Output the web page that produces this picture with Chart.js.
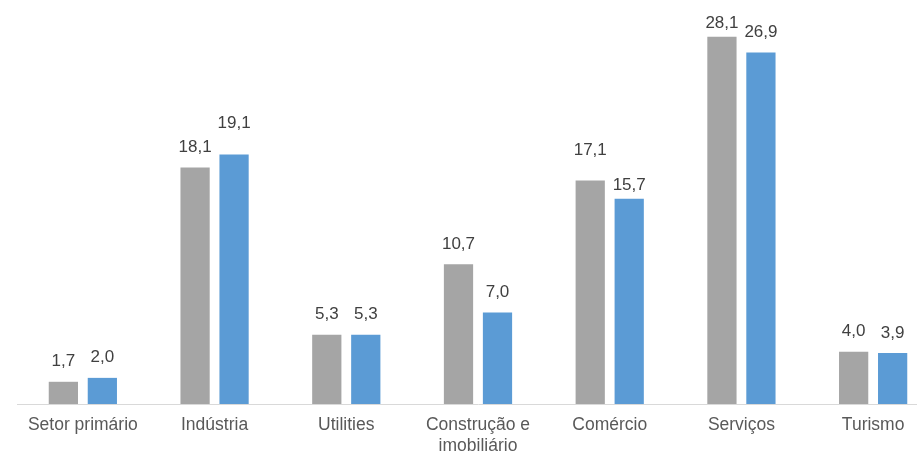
<!DOCTYPE html>
<html>
<head>
<meta charset="utf-8">
<script src="https://cdn.jsdelivr.net/npm/chart.js@4"></script>
<style>
  html, body { margin: 0; padding: 0; background: #fff; overflow: hidden; }
  #wrap { width: 917px; height: 455px; overflow: hidden; }
</style>
</head>
<body>
<div id="wrap"><canvas id="myChart" width="939" height="455"></canvas></div>
<script>
const categories = ["Setor primário", "Indústria", "Utilities", ["Construção e", "imobiliário"], "Comércio", "Serviços", "Turismo"];
const serieCinza = [1.7, 18.1, 5.3, 10.7, 17.1, 28.1, 4.0];
const serieAzul = [2.0, 19.1, 5.3, 7.0, 15.7, 26.9, 3.9];

const FONT = "'Liberation Sans', Arial, sans-serif";

// rotulos de dados acima das barras (alguns foram deslocados no original)
const labelNudge = { "1-1": -10.5, "0-4": -10, "1-4": 7, "0-5": 7 };

const valueLabels = {
  id: "valueLabels",
  afterDatasetsDraw(chart) {
    const ctx = chart.ctx;
    ctx.save();
    ctx.font = "17px " + FONT;
    ctx.fillStyle = "#404040";
    ctx.textAlign = "center";
    ctx.textBaseline = "alphabetic";
    chart.data.datasets.forEach((ds, i) => {
      chart.getDatasetMeta(i).data.forEach((bar, j) => {
        const dy = labelNudge[i + "-" + j] || 0;
        ctx.fillText(ds.data[j].toFixed(1).replace(".", ","), bar.x, bar.y - 15.5 + dy);
      });
    });
    ctx.restore();
  }
};

const ctx = document.getElementById("myChart").getContext("2d");
const myChart = new Chart(ctx, {
  type: "bar",
  data: {
    labels: categories,
    datasets: [
      {
        data: serieCinza,
        backgroundColor: "#a5a5a5",
        categoryPercentage: 0.592,
        barPercentage: 0.75,
      },
      {
        data: serieAzul,
        backgroundColor: "#5b9bd5",
        categoryPercentage: 0.592,
        barPercentage: 0.75,
      },
    ],
  },
  options: {
    responsive: false,
    animation: false,
    layout: { padding: { left: 17, right: 0, top: 12, bottom: 0 } },
    plugins: {
      legend: { display: false },
      tooltip: { enabled: false },
    },
    scales: {
      x: {
        grid: { display: false },
        border: { display: true, color: "#d9d9d9", width: 1 },
        afterFit(scale) {
          scale.height = 51;
        },
        ticks: {
          color: "#595959",
          padding: 3,
          maxRotation: 0,
          autoSkip: false,
          font: { family: FONT, size: 17.5, lineHeight: 1.2 },
        },
      },
      y: {
        display: false,
        min: 0,
        max: 30,
      },
    },
  },
  plugins: [valueLabels],
});
</script>
</body>
</html>
